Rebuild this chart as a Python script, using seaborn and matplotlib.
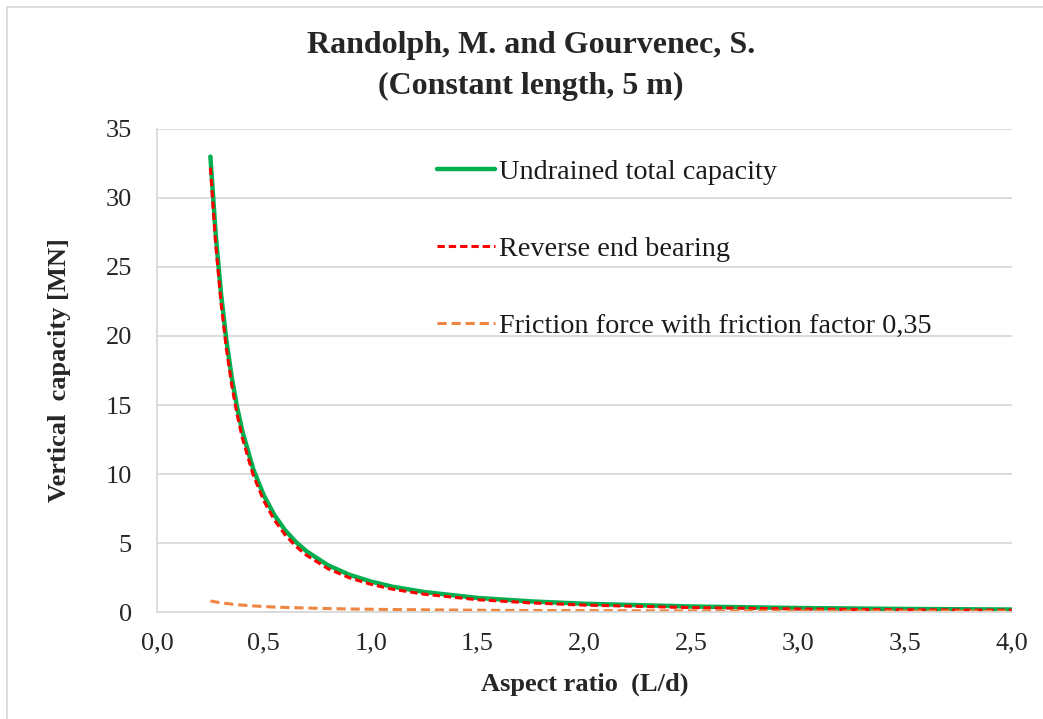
import matplotlib
matplotlib.use("Agg")
import matplotlib.pyplot as plt
from matplotlib.patches import Rectangle
from matplotlib.ticker import FixedLocator, FuncFormatter
import pandas as pd
import seaborn as sns

# Aspect ratio L/d (constant skirt length 5 m)
aspect_ratio = [0.25, 0.275, 0.3, 0.325, 0.35, 0.375, 0.4, 0.45, 0.5, 0.55,
                0.6, 0.65, 0.7, 0.8, 0.9, 1.0, 1.1, 1.25, 1.5, 1.75,
                2.0, 2.5, 3.0, 3.5, 4.0]

# Vertical capacities [MN]
undrained_total = [33.00, 27.34, 23.03, 19.67, 17.00, 14.84, 13.08, 10.38, 8.45, 7.01,
                   5.92, 5.07, 4.40, 3.39, 2.70, 2.21, 1.84, 1.45, 1.02, 0.77,
                   0.60, 0.40, 0.29, 0.22, 0.18]
reverse_end_bearing = [32.20, 26.61, 22.36, 19.05, 16.43, 14.31, 12.58, 9.94, 8.05, 6.65,
                       5.59, 4.76, 4.11, 3.14, 2.48, 2.01, 1.66, 1.29, 0.89, 0.66,
                       0.50, 0.32, 0.22, 0.16, 0.13]
friction_force = [0.80, 0.73, 0.67, 0.62, 0.57, 0.53, 0.50, 0.44, 0.40, 0.36,
                  0.33, 0.31, 0.29, 0.25, 0.22, 0.20, 0.18, 0.16, 0.13, 0.11,
                  0.10, 0.08, 0.07, 0.06, 0.05]

series_labels = ["Undrained total capacity",
                 "Reverse end bearing",
                 "Friction force with friction factor 0,35"]

x_ticks = [0.0, 0.5, 1.0, 1.5, 2.0, 2.5, 3.0, 3.5, 4.0]
y_ticks = [0, 5, 10, 15, 20, 25, 30, 35]

sns.set_theme(style="white")
plt.rcParams["font.family"] = ["Liberation Serif", "DejaVu Serif"]

df = pd.DataFrame({
    "ratio": aspect_ratio,
    "total": undrained_total,
    "reb": reverse_end_bearing,
    "fric": friction_force,
})

fig = plt.figure(figsize=(10.43, 7.19), dpi=100)
ax = fig.add_axes([0.1505, 0.1488, 0.8195, 0.6718])

grid_col = "#D9D9D9"

sns.lineplot(data=df, x="ratio", y="total", ax=ax, color="#00B050",
             linewidth=3.2, label=series_labels[0], solid_capstyle="round")
sns.lineplot(data=df, x="ratio", y="reb", ax=ax, color="#FF0000",
             linewidth=2.2, label=series_labels[1])
sns.lineplot(data=df, x="ratio", y="fric", ax=ax, color="#EE8540",
             linewidth=2.2, label=series_labels[2])
ax.lines[1].set_dashes([2.4, 1.3])
ax.lines[2].set_dashes([3.0, 1.6])

ax.set_xlim(0, 4)
ax.set_ylim(0, 35)
ax.xaxis.set_major_locator(FixedLocator(x_ticks))
ax.yaxis.set_major_locator(FixedLocator(y_ticks))
ax.xaxis.set_major_formatter(FuncFormatter(lambda v, p: f"{v:.1f}".replace(".", ",")))
ax.yaxis.set_major_formatter(FuncFormatter(lambda v, p: f"{int(round(v))}"))
ax.tick_params(axis="both", length=0, labelsize=19, colors="#262626")
ax.tick_params(axis="x", pad=15)
ax.tick_params(axis="y", pad=18)

ax.grid(axis="y", color=grid_col, linewidth=1.3)
ax.set_axisbelow(True)
for side in ["top", "right"]:
    ax.spines[side].set_visible(False)
for side in ["left", "bottom"]:
    ax.spines[side].set_color(grid_col)
    ax.spines[side].set_linewidth(1.3)

ax.set_xlabel("Aspect ratio  (L/d)", fontsize=19, fontweight="bold", labelpad=13)
ax.set_ylabel("Vertical  capacity [MN]", fontsize=19, fontweight="bold", labelpad=25)

leg = ax.legend(loc="upper left", bbox_to_anchor=(0.3275, 0.937), frameon=False,
                fontsize=20.3, handlelength=2.05, handletextpad=0.17, labelspacing=1.82,
                borderpad=0, borderaxespad=0)
for t in leg.get_texts():
    t.set_color("#1a1a1a")

fig.text(531 / 1043, 1 - 45 / 719, "Randolph, M. and Gourvenec, S.",
         ha="center", va="center", fontsize=23, fontweight="bold")
fig.text(531 / 1043, 1 - 86 / 719, "(Constant length, 5 m)",
         ha="center", va="center", fontsize=23, fontweight="bold")

# chart-area border
fig.patches.append(Rectangle((7 / 1043, -0.05), 1.2, 1 - 7 / 719 + 0.05,
                             transform=fig.transFigure, fill=False,
                             edgecolor="#D9D9D9", linewidth=1.3))

fig.savefig("out.png", dpi=100)
